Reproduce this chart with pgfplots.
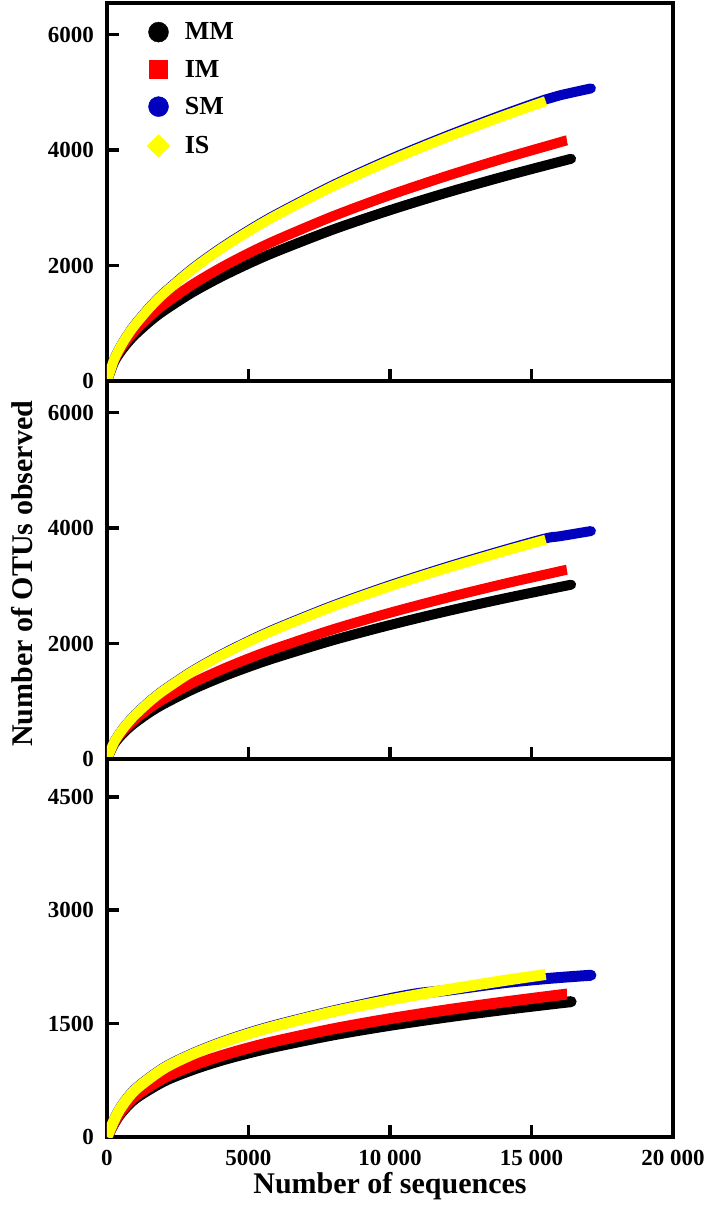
\documentclass[border=0pt]{standalone}
\usepackage{fontspec}
\setmainfont{Liberation Serif}
\usepackage{pgfplots}
\pgfplotsset{compat=1.18}
\definecolor{colIM}{RGB}{255,0,0}
\definecolor{colSM}{RGB}{0,0,190}
\definecolor{colIS}{RGB}{255,255,0}
\pgfplotsset{
  myax/.style={
    scale only axis, width=566pt, height=378pt,
    xmin=0, xmax=20000, scaled x ticks=false, scaled y ticks=false,
    axis line style={line width=3.5pt},
    tick align=inside, xtick pos=bottom, ytick pos=left,
    major tick length=12pt,
    major tick style={line width=3.5pt, black},
    xtick={0,5000,10000,15000,20000},
    tick label style={font=\fontsize{23}{27}\selectfont\bfseries},
    yticklabel style={anchor=east, inner sep=0pt, xshift=-13pt},
    xticklabel style={anchor=base, inner sep=0pt, yshift=-28pt},
  },
  lw/.initial=10pt,
  sMM/.style={black, line width=\pgfkeysvalueof{/pgfplots/lw}, line cap=round, smooth, forget plot},
  sIM/.style={colIM, line width=\pgfkeysvalueof{/pgfplots/lw}, line cap=butt, smooth, forget plot},
  sSM/.style={colSM, line width=\pgfkeysvalueof{/pgfplots/lw}, line cap=round, smooth, forget plot},
  sIS/.style={colIS, line width=\pgfkeysvalueof{/pgfplots/lw}, line cap=butt, smooth, forget plot},
}
\begin{document}
\begin{tikzpicture}
% ---------------- panel 1
\begin{axis}[myax, name=p1,
  ymin=0, ymax=6550, ytick={0,2000,4000,6000}, yticklabels={0,2000,4000,6000},
  xticklabels={},
  legend image code/.code={\draw[#1] plot coordinates {(0pt,0pt)};},
  legend style={at={(axis description cs:0.0707,0.950)}, anchor=north west,
    draw=none, fill=none, inner sep=0pt, row sep=18pt, column sep=15pt,
    font=\fontsize{26}{30}\selectfont\bfseries,
    nodes={inner sep=0pt}},
  legend cell align=left]
\addplot[sMM] coordinates {(0,0)(250,326)(500,520)(750,674)(1000,805)(1500,1026)(2000,1214)(3000,1530)(4000,1797)(5000,2033)(6000,2246)(8000,2626)(10000,2960)(12000,3263)(14000,3541)(16000,3800)(16400,3850)};
\addplot[sIM] coordinates {(0,0)(250,354)(500,566)(750,733)(1000,876)(1500,1117)(2000,1321)(3000,1665)(4000,1956)(5000,2213)(6000,2445)(8000,2858)(10000,3222)(12000,3551)(14000,3854)(16000,4136)(16250,4170)};
\addplot[sSM] coordinates {(0,0)(250,370)(500,616)(750,813)(1000,984)(1500,1274)(2000,1521)(3000,1940)(4000,2295)(5000,2608)(6000,2892)(8000,3397)(10000,3843)(12000,4246)(14000,4618)(15500,4879)(16000,4950)(17100,5070)};
\addplot[sIS] coordinates {(0,0)(250,368)(500,612)(750,808)(1000,978)(1500,1266)(2000,1512)(3000,1928)(4000,2281)(5000,2592)(6000,2875)(8000,3377)(10000,3820)(12000,4221)(14000,4590)(15500,4850)};
\addlegendimage{only marks, mark=*, mark size=10pt, black}
\addlegendentry{MM}
\addlegendimage{only marks, mark=square*, mark size=9pt, colIM}
\addlegendentry{IM}
\addlegendimage{only marks, mark=*, mark size=10pt, colSM}
\addlegendentry{SM}
\addlegendimage{only marks, mark=square*, mark size=8pt, mark options={rotate=45}, colIS}
\addlegendentry{IS}
\end{axis}
% ---------------- panel 2
\begin{axis}[myax, name=p2, at={(p1.south west)}, anchor=north west,
  ymin=0, ymax=6550, ytick={0,2000,4000,6000}, yticklabels={0,2000,4000,6000},
  xticklabels={},
  ylabel={Number of OTUs observed},
  ylabel style={font=\fontsize{30}{36}\selectfont\bfseries, at={(axis description cs:-0.150,0.49)}, anchor=center}]
\addplot[sMM] coordinates {(0,0)(250,256)(500,408)(750,529)(1000,631)(1500,805)(2000,952)(3000,1200)(4000,1410)(5000,1595)(6000,1762)(8000,2060)(10000,2322)(12000,2560)(14000,2778)(16000,2981)(16400,3020)};
\addplot[sIM] coordinates {(0,0)(250,278)(500,445)(750,577)(1000,689)(1500,879)(2000,1039)(3000,1310)(4000,1539)(5000,1741)(6000,1923)(8000,2248)(10000,2534)(12000,2793)(14000,3032)(16000,3253)(16250,3280)};
\addplot[sSM] coordinates {(0,0)(250,290)(500,482)(750,637)(1000,771)(1500,998)(2000,1192)(3000,1520)(4000,1798)(5000,2043)(6000,2267)(8000,2662)(10000,3011)(12000,3327)(14000,3618)(15500,3823)(16000,3860)(17100,3950)};
\addplot[sIS] coordinates {(0,0)(250,288)(500,479)(750,633)(1000,766)(1500,992)(2000,1185)(3000,1511)(4000,1787)(5000,2031)(6000,2253)(8000,2646)(10000,2993)(12000,3307)(14000,3596)(15500,3800)};
\end{axis}
% ---------------- panel 3
\begin{axis}[myax, name=p3, at={(p2.south west)}, anchor=north west, lw=11pt,
  ymin=0, ymax=5000, ytick={0,1500,3000,4500}, yticklabels={0,1500,3000,4500},
  xticklabels={0,5000,{10 000},{15 000},{20 000}},
  xlabel={Number of sequences},
  xlabel style={font=\fontsize{30}{36}\selectfont\bfseries, at={(axis description cs:0.5,0)}, anchor=base, yshift=-56pt}]
\addplot[sMM] coordinates {(0,0)(250,180)(500,320)(1000,510)(2000,737)(3000,889)(4000,1011)(5000,1112)(6000,1200)(8000,1352)(10000,1478)(12000,1587)(14000,1685)(16000,1774)(16400,1790)};
\addplot[sIM] coordinates {(0,0)(250,190)(500,340)(1000,540)(2000,780)(3000,941)(4000,1070)(5000,1178)(6000,1271)(8000,1431)(10000,1565)(12000,1681)(14000,1784)(16000,1879)(16250,1890)};
\addplot[sSM] coordinates {(0,0)(250,222)(500,395)(1000,630)(2000,910)(3000,1097)(4000,1247)(5000,1373)(6000,1481)(8000,1667)(10000,1830)(11000,1898)(12000,1940)(14000,2040)(15500,2095)(16000,2110)(17100,2140)};
\addplot[sIS] coordinates {(0,0)(250,220)(500,392)(1000,625)(2000,905)(3000,1091)(4000,1240)(5000,1365)(6000,1473)(8000,1659)(10000,1814)(12000,1948)(14000,2068)(15500,2150)};
\end{axis}
\path (p1.north west) ++(-107pt,3pt);
\path (p3.south west) ++(602pt,-80pt);
\end{tikzpicture}
\end{document}
